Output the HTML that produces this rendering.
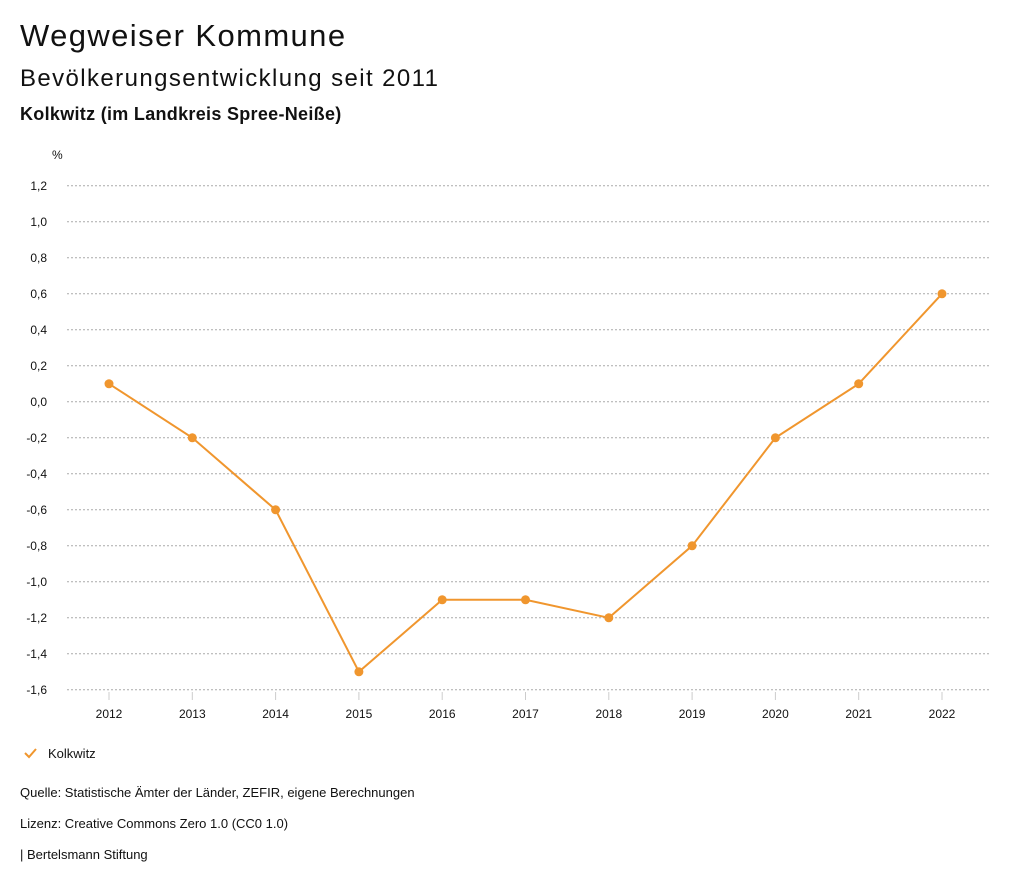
<!DOCTYPE html>
<html><head><meta charset="utf-8"><style>
body{margin:0;width:1024px;height:888px;background:#fff;font-family:"Liberation Sans",sans-serif;color:#111;overflow:hidden}
.t{position:absolute;white-space:nowrap}
</style></head><body>
<div class="t" style="left:20px;top:18px;font-size:31px;letter-spacing:1.4px">Wegweiser Kommune</div>
<div class="t" style="left:20px;top:65px;font-size:24px;letter-spacing:1.4px">Bevölkerungsentwicklung seit 2011</div>
<div class="t" style="left:20px;top:104px;font-size:18px;font-weight:bold;letter-spacing:0.3px">Kolkwitz (im Landkreis Spree-Neiße)</div>
<svg id="chart" width="1024" height="888" style="position:absolute;left:0;top:0"></svg>
<svg width="16" height="14" style="position:absolute;left:23px;top:747px"><polyline points="2,6 6,10 13,2" fill="none" stroke="#f0962e" stroke-width="2"/></svg>
<div class="t" style="left:48px;top:746px;font-size:13px">Kolkwitz</div>
<div class="t" style="left:20px;top:785px;font-size:13px">Quelle: Statistische Ämter der Länder, ZEFIR, eigene Berechnungen</div>
<div class="t" style="left:20px;top:816px;font-size:13px">Lizenz: Creative Commons Zero 1.0 (CC0 1.0)</div>
<div class="t" style="left:20px;top:847px;font-size:13px">| Bertelsmann Stiftung</div>
<script>
const years=[2012,2013,2014,2015,2016,2017,2018,2019,2020,2021,2022];
const values=[0.1,-0.2,-0.6,-1.5,-1.1,-1.1,-1.2,-0.8,-0.2,0.1,0.6];
const yTicks=[1.2,1.0,0.8,0.6,0.4,0.2,0.0,-0.2,-0.4,-0.6,-0.8,-1.0,-1.2,-1.4,-1.6];
const svg=document.getElementById('chart');const NS='http://www.w3.org/2000/svg';
const y=v=>401.8-(v/0.2)*36;
const x=i=>109+i*(942-109)/(years.length-1);
function mk(t,a){const e=document.createElementNS(NS,t);for(const k in a)e.setAttribute(k,a[k]);svg.appendChild(e);return e;}
yTicks.forEach(v=>{
 const g=mk('line',{x1:67,x2:990,y1:y(v),y2:y(v),stroke:'#aaa','stroke-dasharray':'2,2','stroke-width':1});
 
 
 const t=mk('text',{x:47,y:y(v)+4,'text-anchor':'end','font-size':12,fill:'#111','font-family':'Liberation Sans'});
 t.textContent=v.toFixed(1).replace('.',',');
 
 
});
const u=mk('text',{x:52,y:159,'font-size':12,fill:'#111'});u.textContent='%';


years.forEach((yr,i)=>{
 const tk=mk('line',{x1:x(i),x2:x(i),y1:692,y2:700,stroke:'#ccc'});
 
 
 const t=mk('text',{x:x(i),y:718,'text-anchor':'middle','font-size':12,fill:'#111'});t.textContent=yr;
 
 
});
const pl=mk('polyline',{points:values.map((v,i)=>x(i)+','+y(v)).join(' '),fill:'none',stroke:'#f0962e','stroke-width':2});


values.forEach((v,i)=>{
 const c=mk('circle',{cx:x(i),cy:y(v),r:4.5,fill:'#f0962e'});
 
 
});
</script>
</body></html>
